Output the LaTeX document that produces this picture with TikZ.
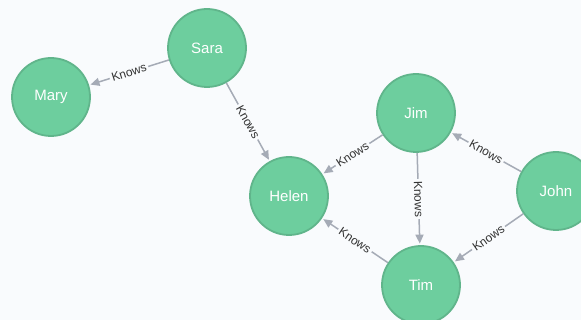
\documentclass[tikz,border=0pt]{standalone}
\usepackage{fontspec}
\setmainfont{Liberation Sans}
\usetikzlibrary{arrows.meta}

\definecolor{canvas}{HTML}{F9FBFD}
\definecolor{person}{HTML}{6DCE9E}
\definecolor{personrim}{HTML}{60B58B}
\definecolor{rel}{HTML}{A5ABB6}

\begin{document}
\begin{tikzpicture}[
  x=1pt, y=-1pt,
  >={Triangle[length=9pt,width=8pt]},
  person/.style={circle,draw=personrim,line width=1.8pt,fill=person,minimum size=78pt,
    inner sep=0pt,text=white,font=\fontsize{15}{17}\selectfont},
  knows/.style={->,draw=rel,line width=1.5pt,shorten >=1.5pt},
  tag/.style={sloped,fill=canvas,inner sep=2pt,text=black!80,font=\fontsize{12}{14}\selectfont}
]
  \fill[canvas] (0,0) rectangle (581,320);
  \clip (0,0) rectangle (581,320);

  % people
  \node[person] (sara)  at (207,48)  {Sara};
  \node[person] (mary)  at (51,97)   {Mary};
  \node[person] (helen) at (289,196) {Helen};
  \node[person] (jim)   at (416,113) {Jim};
  \node[person] (john)  at (556,191) {John};
  \node[person] (tim)   at (421,285) {Tim};

  % relations
  \draw[knows] (sara) -- node[tag] {Knows} (mary);
  \draw[knows] (sara) -- node[tag] {Knows} (helen);
  \draw[knows] (jim)  -- node[tag] {Knows} (helen);
  \draw[knows] (jim)  -- node[tag] {Knows} (tim);
  \draw[knows] (tim)  -- node[tag] {Knows} (helen);
  \draw[knows] (john) -- node[tag] {Knows} (jim);
  \draw[knows] (john) -- node[tag] {Knows} (tim);
\end{tikzpicture}
\end{document}
